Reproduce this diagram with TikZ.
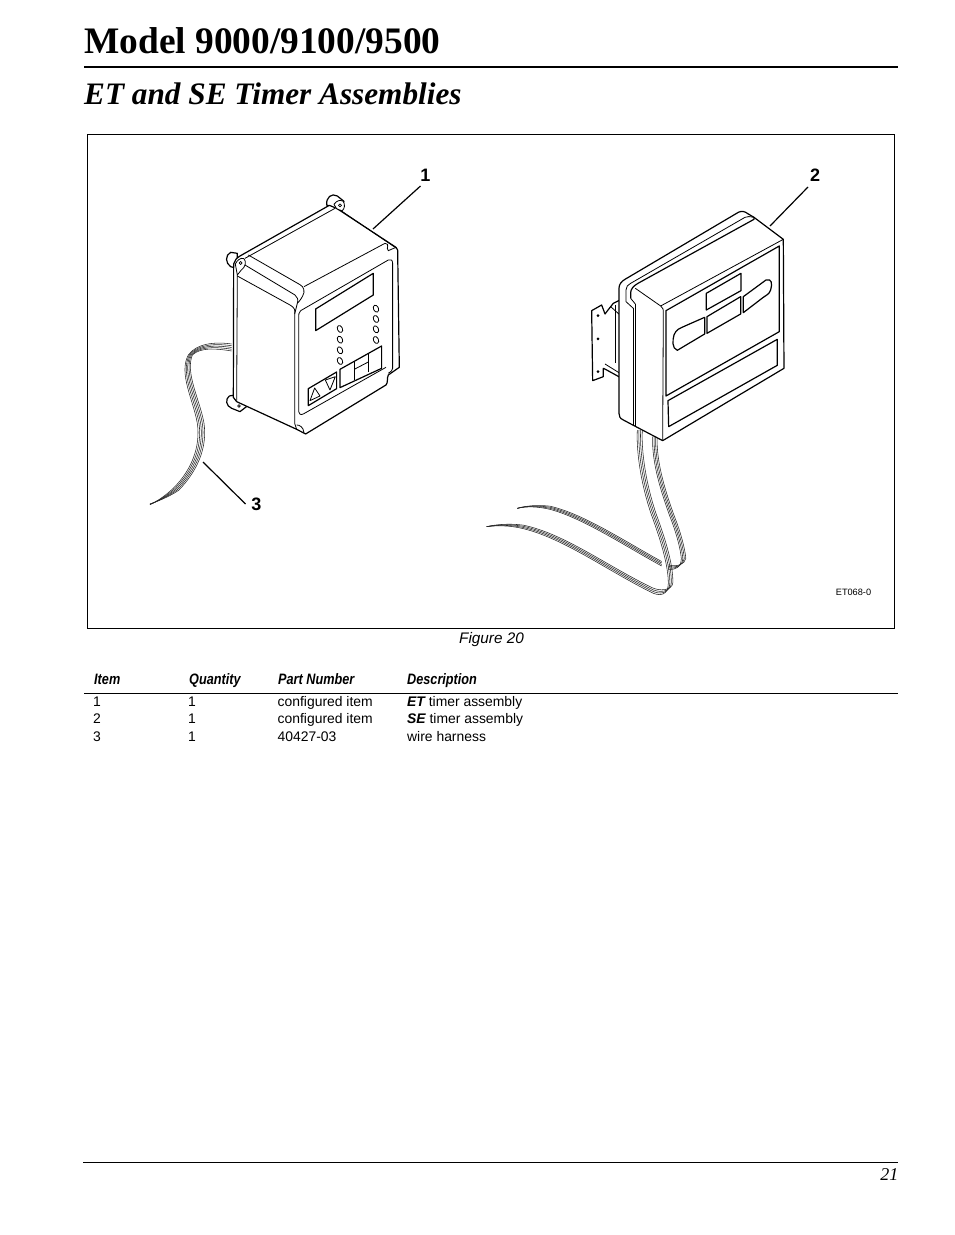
\documentclass[tikz,border=0pt]{standalone}
\usepackage{fontspec}
\setmainfont{Liberation Serif}
\setsansfont{Liberation Sans}
\usetikzlibrary{calc}
\newcommand{\fsz}[1]{\fontsize{#1}{#1}\selectfont}
\newcommand{\narrowhead}[1]{\scalebox{.84}[1]{\sffamily\bfseries\itshape\fsz{15.1}#1}}
\tikzset{
 txt/.style={inner sep=0pt,anchor=base west},
 cell/.style={txt,font=\sffamily\fsz{13.9}},
 head/.style={txt},
 callout/.style={inner sep=0pt,font=\sffamily\bfseries\fsz{18}},
 leader/.style={draw=black,line width=1.2pt},
 ink/.style={draw=black,line width=.8pt,line join=round},
 heavy/.style={draw=black,line width=1.2pt,line join=round},
 wire/.style={draw=black!85,line width=.55pt},
}
\begin{document}
\begin{tikzpicture}[x=1pt,y=-1pt]
\useasboundingbox (0,0) rectangle (954,1235);
\fill[white] (0,0) rectangle (954,1235);
% page text
\node[txt,font=\bfseries\fsz{37.4}] (title) at (84,53) {Model 9000/9100/9500};
\draw[line width=1.9pt] (84,67) -- (898,67);
\node[txt,font=\bfseries\itshape\fsz{31.25}] (sub) at (84,104) {ET and SE Timer Assemblies};
\draw[line width=1pt] (87.5,134.5) rectangle (894.5,628.5);
\node[inner sep=0pt,anchor=base,font=\sffamily\itshape\fsz{15.3}] (fig) at (491.5,643) {Figure 20};
\node[inner sep=0pt,anchor=base,font=\sffamily\fsz{9.2}] (code) at (853.5,595) {ET068-0};
% table
\node[head] (h1) at (94,684) {\narrowhead{Item}};
\node[head] (h2) at (189,684) {\narrowhead{Quantity}};
\node[head] (h3) at (278,684) {\narrowhead{Part Number}};
\node[head] (h4) at (407,684) {\narrowhead{Description}};
\draw[line width=.9pt] (84,693.5) -- (898,693.5);
\node[cell] (a1) at (93,706) {1};
\node[cell] (b1) at (188,706) {1};
\node[cell] (c1) at (277.5,706) {configured item};
\node[cell] (d1) at (407,706) {{\bfseries\itshape ET} timer assembly};
\node[cell] (a2) at (93,723) {2};
\node[cell] (b2) at (188,723) {1};
\node[cell] (c2) at (277.5,723) {configured item};
\node[cell] (d2) at (407,723) {{\bfseries\itshape SE} timer assembly};
\node[cell] (a3) at (93,741) {3};
\node[cell] (b3) at (188,741) {1};
\node[cell] (c3) at (277.5,741) {40427-03};
\node[cell] (d3) at (407,741) {wire harness};
\draw[line width=.9pt] (83,1162.5) -- (898,1162.5);
\node[inner sep=0pt,anchor=base east,font=\itshape\fsz{18}] (pg) at (898.5,1180) {21};
% callouts
\node[callout] (n1) at (425.5,175) {1};
\node[callout] (n2) at (815,175) {2};
\node[callout] (n3) at (256.5,504) {3};
\coordinate (t1) at (373,229);
\coordinate (t2) at (770,226);
\coordinate (t3) at (203,462);
\draw[leader] (n1) ++(-5,11) -- (t1);
\draw[leader] (n2) ++(-7,12) -- (t2);
\draw[leader] (n3) ++(-11,0) -- (t3);
% ET unit
\begin{scope}[shift={(140,160)},x=.3333pt,y=-.3333pt]
 % harness
 \foreach \d in {0,5,10,15,20}{
  \draw[wire] (275,{552+\d*1.05}) .. controls (225,{545+\d}) and ({170+\d*.6},{550+\d*.6}) .. ({145+\d*.6},585) .. controls ({115+\d},640) and ({160+\d},720) .. ({172+\d},790) .. controls ({182+\d},860) and ({155+\d},930) .. ({100+\d*.8},{985+\d*.3}) .. controls ({75+\d*.5},{1008+\d*.2}) and (50,1025) .. (30,{1034-\d*.1});
 }
 % mounting tabs, rear lobes
 \draw[heavy,fill=white] (560,135) .. controls (558,112) and (575,98) .. (592,108) -- (612,124) -- (600,150) -- cycle;
 \draw[heavy,fill=white] (292,280) -- (272,277) .. controls (255,285) and (256,310) .. (272,320) -- (290,325) -- cycle;
 \draw[heavy,fill=white] (285,705) -- (268,708) .. controls (255,718) and (258,738) .. (275,745) -- (300,755) -- (322,738) -- cycle;
 % body
 \draw[heavy,fill=white] (281,312) .. controls (283,302) and (290,294) .. (300,288) -- (568,136) -- (590,145) -- (768,262) -- (773,270) -- (778,622) -- (745,645) .. controls (740,655) and (745,668) .. (738,675) -- (497,822) -- (470,808) -- (290,725) -- (280,712) -- cycle;
 % ears with screw holes
 \draw[ink,fill=white] (582,133) .. controls (590,122) and (600,118) .. (610,124) .. controls (616,135) and (614,146) .. (606,153) -- (590,146) -- cycle;
 \draw[ink] (600,136) circle (4.5);
 \draw[ink,fill=white] (286,312) .. controls (292,300) and (302,292) .. (312,296) .. controls (320,305) and (316,322) .. (304,330) -- (292,345) -- cycle;
 \draw[ink] (302,309) circle (4.5);
 \draw[ink] (297,738) circle (4);
 % left flange / side
 \draw[ink] (292,345) -- (290,722);
 \draw[ink] (315,295) -- (585,145);
 \draw[ink] (600,150) -- (770,265);
 % top face creases
 \draw[ink] (292,348) -- (450,435) .. controls (464,443) and (466,450) .. (464,462) -- (464,790) -- (470,808);
 \draw[ink] (315,315) -- (465,405) .. controls (472,410) and (476,420) .. (472,430) -- (464,462);
 \draw[ink] (325,285) -- (480,374) .. controls (492,380) and (496,395) .. (488,408) .. controls (482,420) and (474,428) .. (472,430);
 \draw[ink] (492,380) -- (735,250) .. controls (742,248) and (745,255) .. (742,265) -- (745,272) -- (768,262);
 % front bezel
 \draw[ink] (482,452) -- (745,300) .. controls (752,296) and (758,300) .. (758,310) -- (758,625) .. controls (758,632) and (752,635) .. (745,640);
 \draw[ink] (482,452) .. controls (476,456) and (476,465) .. (476,475) -- (476,755) .. controls (476,762) and (482,766) .. (490,762) -- (738,622);
 \draw[ink] (470,795) .. controls (478,795) and (490,800) .. (492,818);
 % display
 \draw[heavy] (527,447) -- (700,340) -- (700,405) -- (527,512) -- cycle;
 % LEDs
 \foreach \p in {(600,507),(600,539),(600,571),(600,603),(708,446),(708,477),(708,508),(708,540)}{
  \draw[ink,rotate around={25:\p}] \p ellipse (7.5 and 11);
 }
 % buttons
 \draw[heavy] (505,686) -- (590,636) -- (590,686) -- (505,737) -- cycle;
 \draw[ink] (510,722) -- (524,684) -- (540,708) -- cycle;
 \draw[ink] (556,660) -- (586,650) -- (570,690) -- cycle;
 \draw[heavy] (600,628) -- (725,558) -- (725,625) -- (600,683) -- cycle;
 \draw[ink] (643,604) -- (643,660);
 \draw[ink] (685,582) -- (685,635);
 \draw[ink] (643,628) -- (685,606);
\end{scope}
% SE unit wires
\begin{scope}[shift={(480,420)},x=.3333pt,y=-.3333pt]
 \foreach \d in {0,5,10,15}{
  \draw[wire] ({472+\d},30) .. controls ({468+\d},110) and ({490+\d},220) .. ({520+\d},300) .. controls ({545+\d},370) and ({565+\d},{440}) .. ({565+\d*.9},{490-\d*.1}) .. controls ({565+\d*.8},{525-\d}) and ({540},{{532-\d}}) .. ({510},{515-\d}) .. controls (380,{450-\d*.9}) and (250,{355-\d}) .. (130,{326-\d*.7}) .. controls (90,{316-\d*.4}) and (50,{316-\d*.2}) .. (20,{320});
 }
 \foreach \d in {0,4.5,9,13.5}{
  \draw[wire] ({518+\d},50) .. controls ({515+\d},130) and ({545+\d},220) .. ({570+\d},290) .. controls ({590+\d},340) and ({602+\d},390) .. ({604+\d},{415}) .. controls ({604+\d*.8},{440-\d*.5}) and ({590},{{450-\d*.6}}) .. ({565},{{448-\d}});
  \draw[wire] (545,{438-\d}) .. controls (430,{375-\d}) and (310,{295-\d}) .. (210,{268-\d*.7}) .. controls (175,{260-\d*.4}) and (140,{258-\d*.1}) .. (112,265);
 }
\end{scope}
% SE unit
\begin{scope}[shift={(570,160)},x=.3333pt,y=-.3333pt]
 % bracket
 \draw[heavy,fill=white] (150,420) -- (130,430) -- (118,445) -- (105,462) -- (95,435) -- (65,452) -- (68,662) -- (100,650) -- (100,625) -- (110,630) -- (150,652) -- cycle;
 \draw[ink] (135,436) -- (135,610);
 \draw[ink] (105,612) -- (150,640);
 \draw[ink] (122,440) -- (150,465);
 \fill (84,467) circle (4.5);
 \fill (84,537) circle (4.5);
 \fill (84,635) circle (4.5);
 % housing silhouette
 \draw[heavy,fill=white] (147,760) -- (147,385) .. controls (147,372) and (155,364) .. (165,358) -- (505,157) .. controls (515,152) and (525,154) .. (535,162) -- (552,172) -- (640,238) -- (642,625) -- (278,842) -- (192,797) -- (160,780) .. controls (150,775) and (147,770) .. (147,760);
 % band lines on top
 \draw[ink] (190,445) -- (168,425) -- (168,390) .. controls (168,380) and (174,374) .. (182,370) -- (525,172) .. controls (532,168) and (540,170) .. (552,172);
 \draw[heavy] (182,415) -- (182,398) .. controls (182,388) and (190,378) .. (204,370) -- (552,178) -- (552,172);
 \draw[ink] (182,415) -- (196,432);
 \draw[ink] (190,445) -- (190,795);
 \draw[ink] (196,432) -- (196,800);
 % front top edges
 \draw[ink] (196,385) -- (272,438) .. controls (278,442) and (281,448) .. (280,460) -- (278,842);
 \draw[ink] (272,438) -- (640,238);
 % face panels
 \draw[heavy] (288,452) -- (628,258) -- (628,515) -- (288,708) -- cycle;
 \draw[heavy] (294,722) -- (622,538) -- (622,616) -- (296,800) -- cycle;
 \draw[heavy] (409,400) -- (513,340) -- (513,392) -- (409,450) -- cycle;
 \draw[heavy] (411,470) -- (512,410) -- (512,462) -- (411,520) -- cycle;
 \draw[heavy] (404,472) -- (404,522) -- (322,571) .. controls (305,565) and (308,540) .. (312,525) .. controls (318,508) and (330,505) .. (345,498) -- cycle;
 \draw[heavy] (520,410) -- (588,360) .. controls (605,355) and (608,370) .. (602,390) .. controls (598,402) and (590,405) .. (580,412) -- (520,458) -- cycle;
\end{scope}
\end{tikzpicture}
\end{document}
